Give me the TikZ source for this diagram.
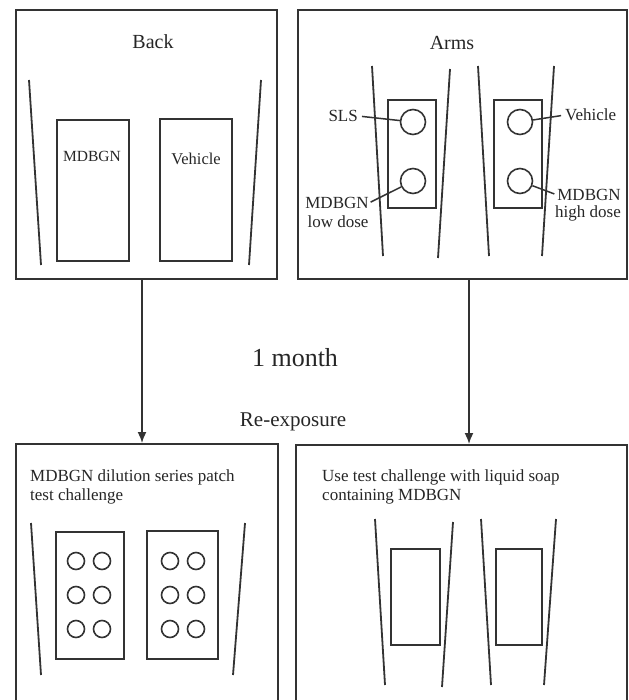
\documentclass[tikz,border=0pt]{standalone}
\usepackage{fontspec}
\setmainfont{Liberation Serif}
\usetikzlibrary{arrows.meta}
\definecolor{ink}{HTML}{333333}
\definecolor{txt}{HTML}{262626}
\begin{document}
\begin{tikzpicture}[x=1pt,y=-1pt,
  bigbox/.style={draw=ink, line width=2pt, inner sep=0pt, anchor=north west},
  patchbox/.style={draw=ink, line width=1.7pt, inner sep=0pt, anchor=north west},
  spot/.style={circle, draw=ink, line width=1.6pt, inner sep=0pt, minimum size=#1},
  spot/.default=25pt,
  limb/.style={draw=ink, line width=1.8pt},
  lead/.style={draw=ink, line width=1.5pt},
  lbl/.style={text=txt, inner sep=0pt, font=\fontsize{17}{19}\selectfont},
  ttl/.style={text=txt, inner sep=0pt, font=\fontsize{20}{22}\selectfont},
  conn/.style={draw=ink, line width=1.6pt, -{Latex[length=11pt,width=9pt]}}]
\useasboundingbox (0,0) rectangle (628,700);
\clip (0,0) rectangle (628,700);

% ---- big boxes
\node[bigbox, minimum width=261pt, minimum height=269pt] (back) at (15,9) {};
\node[bigbox, minimum width=329pt, minimum height=269pt] (arms) at (297,9) {};
\node[bigbox, minimum width=262pt, minimum height=270pt] (patchtest) at (15,443) {};
\node[bigbox, minimum width=331pt, minimum height=270pt] (usetest) at (295,444) {};

% ---- Back
\node[ttl] (backttl) at (153,42) {Back};
\draw[limb] (29,80) -- (41,265);
\draw[limb] (261,80) -- (249,265);
\node[patchbox, minimum width=72pt, minimum height=141pt] (bp1) at (56,119) {};
\node[patchbox, minimum width=72pt, minimum height=142pt] (bp2) at (159,118) {};
\node[lbl, font=\fontsize{15.5}{18}\selectfont] (bp1txt) at (92,156) {MDBGN};
\node[lbl, font=\fontsize{16.5}{18}\selectfont] (bp2txt) at (196,159) {Vehicle};

% ---- Arms
\node[ttl] (armsttl) at (452,43) {Arms};
\draw[limb] (372,66) -- (383,256);
\draw[limb] (450,69) -- (438,258);
\draw[limb] (478,66) -- (489,256);
\draw[limb] (554,66) -- (542,256);
\node[patchbox, minimum width=48pt, minimum height=108pt] (ap1) at (387,99) {};
\node[patchbox, minimum width=48pt, minimum height=108pt] (ap2) at (493,99) {};
\node[spot] (c1) at (413,122) {};
\node[spot] (c2) at (413,181) {};
\node[spot] (c3) at (520,122) {};
\node[spot] (c4) at (520,181) {};
\node[lbl, anchor=east] (sls) at (358,116) {SLS};
\node[lbl] (lowa) at (337,203) {MDBGN};
\node[lbl] (lowb) at (338,222) {low dose};
\node[lbl, anchor=west] (vehlbl) at (565,115) {Vehicle};
\node[lbl] (hia) at (589,195) {MDBGN};
\node[lbl] (hib) at (588,213) {high dose};
\draw[lead, shorten <=4pt] (sls.east) -- (c1);
\draw[lead, shorten <=2pt] (lowa.east) -- (c2);
\draw[lead, shorten <=4pt] (vehlbl.west) -- (c3);
\draw[lead, shorten <=3pt] (hia.west) -- (c4);

% ---- connectors and middle text
\coordinate (lx) at (142,0);
\coordinate (rx) at (469,0);
\draw[conn] (back.south -| lx) -- (patchtest.north -| lx);
\draw[conn] (arms.south -| rx) -- (usetest.north -| rx);
\node[text=txt, inner sep=0pt, font=\fontsize{26}{28}\selectfont] (month) at (295,358) {1 month};
\node[text=txt, inner sep=0pt, font=\fontsize{21}{23}\selectfont] (reexp) at (293,422) {Re-exposure};

% ---- Patch test challenge
\node[lbl, anchor=north west, align=left] (pttxt) at (30,469) {MDBGN dilution series patch\\test challenge};
\draw[limb] (31,523) -- (41,675);
\draw[limb] (245,523) -- (233,675);
\node[patchbox, minimum width=68pt, minimum height=127pt] (pp1) at (55,531) {};
\node[patchbox, minimum width=71pt, minimum height=128pt] (pp2) at (146,530) {};
\foreach \cx/\nm in {76/a,102/b,170/c,196/d}{
  \foreach \cy/\rw in {561/1,595/2,629/3}{
    \node[spot=17pt] (d\nm\rw) at (\cx,\cy) {};
  }
}

% ---- Use test challenge
\node[lbl, anchor=north west, align=left] (uttxt) at (322,469) {Use test challenge with liquid soap\\containing MDBGN};
\draw[limb] (375,519) -- (385,685);
\draw[limb] (453,522) -- (442,687);
\draw[limb] (481,519) -- (491,685);
\draw[limb] (556,519) -- (544,685);
\node[patchbox, minimum width=49pt, minimum height=96pt] (up1) at (390,548) {};
\node[patchbox, minimum width=46pt, minimum height=96pt] (up2) at (495,548) {};
\end{tikzpicture}
\end{document}
